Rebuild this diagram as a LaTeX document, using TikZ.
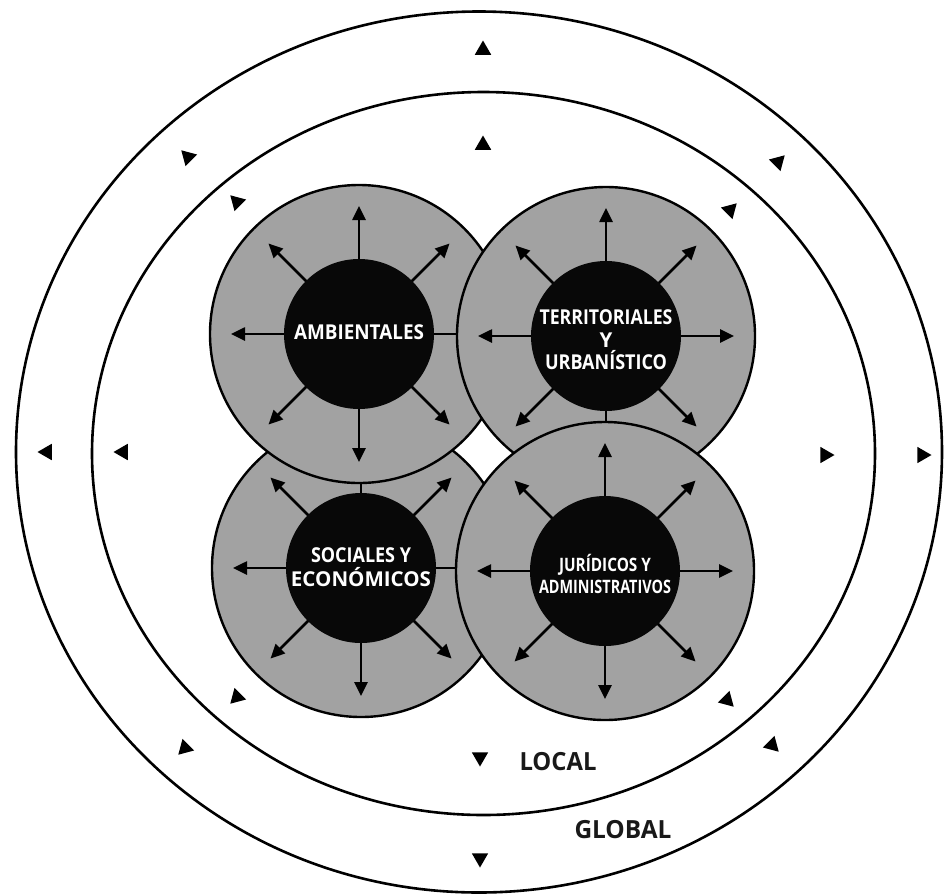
\documentclass[tikz,border=0pt]{standalone}
\usepackage{fontspec}
\setmainfont{Open Sans}
\usepackage{graphicx}
\usetikzlibrary{arrows.meta,shapes.geometric}
\definecolor{ringgray}{RGB}{162,162,162}
\definecolor{coreblack}{RGB}{8,8,8}
\definecolor{labelink}{RGB}{25,25,25}
\newcommand{\wfit}[2]{\resizebox{#1pt}{\height}{#2}}
\begin{document}
\begin{tikzpicture}[x=1pt,y=-1pt,
  ringline/.style={ellipse, draw, line width=2.6pt, inner sep=0},
  graycirc/.style={circle, draw, line width=2.4pt, fill=ringgray, minimum size=298pt, inner sep=0},
  corecirc/.style={circle, fill=coreblack, minimum size=150pt, inner sep=0},
  coretext/.style={text=white, font=\bfseries\fontsize{20.5}{23.5}\selectfont, align=center, inner sep=0},
  arr/.style={line width=2.6pt, -{Triangle[length=14pt,width=13pt]}},
  tri/.style={regular polygon, regular polygon sides=3, fill=black, inner sep=0, minimum size=19pt},
  lbl/.style={font=\bfseries\fontsize{25}{28}\selectfont, text=labelink}
]
\useasboundingbox (0,0) rectangle (945,895);
\fill[white] (0,0) rectangle (945,895);

% rings
\node[ringline, minimum width=926pt, minimum height=881pt] (globalring) at (479,452) {};
\node[ringline, minimum width=783pt, minimum height=723pt] (localring) at (483.5,453.5) {};

% centres
\coordinate (blc) at (361,568);
\coordinate (tlc) at (359,334);
\coordinate (trc) at (606,336);
\coordinate (brc) at (605,571);

% bottom-left
\node[graycirc] (blg) at (blc) {};
\foreach \a in {0,45,...,315} \draw[arr] (blc) ++(\a:70pt) -- ++(\a:58pt);
\node[corecirc] (bl) at (blc) {};
\node[coretext] (blt) at ([yshift=1pt]blc) {\wfit{100}{SOCIALES Y}\\[0.5pt]\wfit{140}{ECONÓMICOS}};

% top-left
\node[graycirc] (tlg) at (tlc) {};
\foreach \a in {0,45,...,315} \draw[arr] (tlc) ++(\a:70pt) -- ++(\a:58pt);
\node[corecirc] (tl) at (tlc) {};
\node[coretext] (tlt) at ([yshift=2pt]tlc) {\wfit{130}{AMBIENTALES}};

% top-right
\node[graycirc] (trg) at (trc) {};
\foreach \a in {0,45,...,315} \draw[arr] (trc) ++(\a:70pt) -- ++(\a:58pt);
\node[corecirc] (tr) at (trc) {};
\node[coretext] (trt) at ([yshift=-4pt]trc)
  {\wfit{133}{TERRITORIALES}\\[-1pt]Y\\[-1pt]\wfit{122}{URBANÍSTICO}};

% bottom-right
\node[graycirc] (brg) at (brc) {};
\foreach \a in {0,45,...,315} \draw[arr] (brc) ++(\a:70pt) -- ++(\a:58pt);
\node[corecirc] (br) at (brc) {};
\node[coretext, font=\bfseries\fontsize{18.5}{22}\selectfont] (brt) at ([yshift=-3pt]brc)
  {\wfit{92}{JURÍDICOS Y}\\\wfit{132}{ADMINISTRATIVOS}};

% outer ring triangles
\node[tri, rotate=0]   (o1) at (483,50) {};
\node[tri, rotate=45]  (o2) at (188,157) {};
\node[tri, rotate=-45] (o3) at (778,162) {};
\node[tri, rotate=90]  (o4) at (47,452) {};
\node[tri, rotate=-90] (o5) at (922,455) {};
\node[tri, rotate=135] (o6) at (185,748) {};
\node[tri, rotate=225] (o7) at (772,745) {};
\node[tri, rotate=180] (o8) at (480,858) {};

% inner ring triangles
\node[tri, rotate=0]   (i1) at (483,145) {};
\node[tri, rotate=45]  (i2) at (237,202) {};
\node[tri, rotate=-45] (i3) at (730,210) {};
\node[tri, rotate=90]  (i4) at (123,452) {};
\node[tri, rotate=-90] (i5) at (825,455) {};
\node[tri, rotate=135] (i6) at (237,697) {};
\node[tri, rotate=225] (i7) at (727,700) {};
\node[tri, rotate=180] (i8) at (480,757) {};

% labels
\node[lbl] (local) at (558,762) {\wfit{77}{LOCAL}};
\node[lbl] (global) at (623,830) {\wfit{97}{GLOBAL}};
\end{tikzpicture}
\end{document}
